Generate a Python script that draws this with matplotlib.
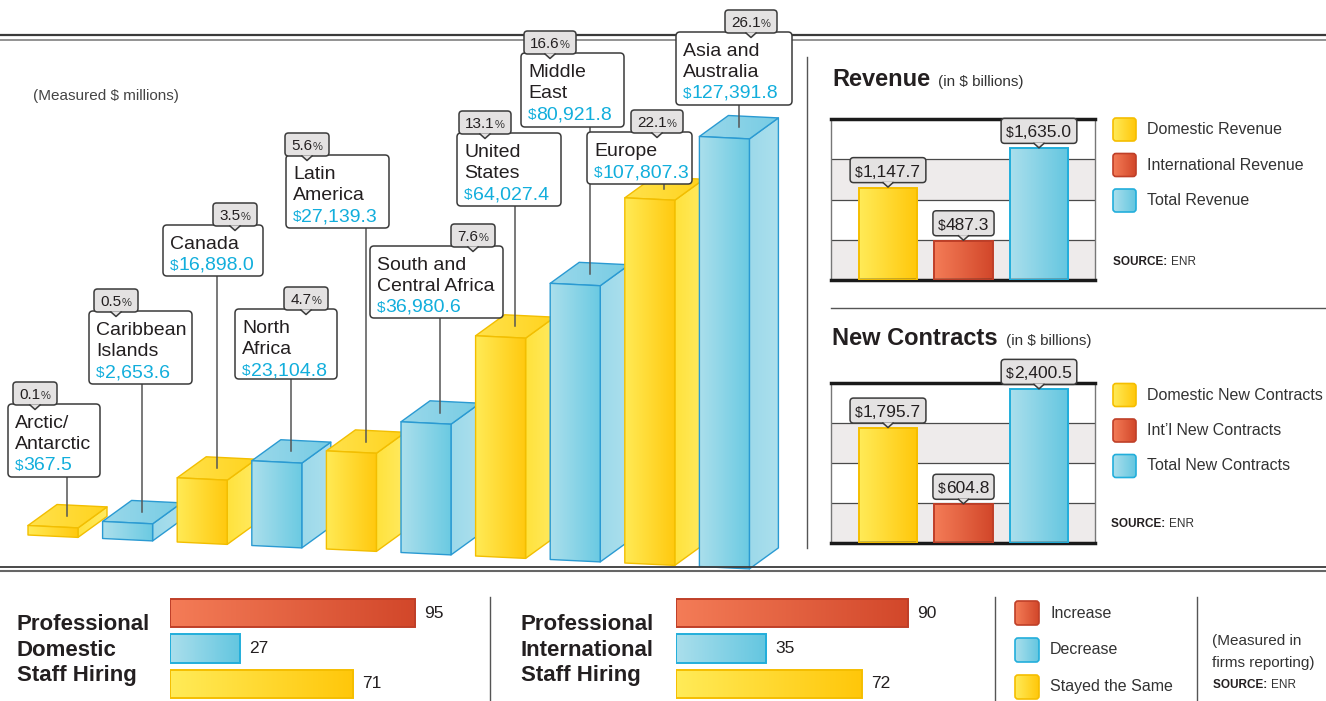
import numpy as np
import matplotlib
matplotlib.use('Agg')
import matplotlib.pyplot as plt
from matplotlib.patches import Polygon, FancyBboxPatch
from matplotlib.colors import LinearSegmentedColormap

plt.rcParams['font.family'] = ['Liberation Sans', 'DejaVu Sans']
plt.rcParams['text.parse_math'] = False

# regional work (measured $ millions)
regions = ['Arctic/\nAntarctic', 'Caribbean\nIslands', 'Canada', 'North\nAfrica', 'Latin\nAmerica',
           'South and\nCentral Africa', 'United\nStates', 'Middle\nEast', 'Europe', 'Asia and\nAustralia']
region_values = [367.5, 2653.6, 16898.0, 23104.8, 27139.3, 36980.6, 64027.4, 80921.8, 107807.3, 127391.8]
region_share = [0.1, 0.5, 3.5, 4.7, 5.6, 7.6, 13.1, 16.6, 22.1, 26.1]

# revenue / new contracts ($ billions)
rev_names = ['Domestic Revenue', 'International Revenue', 'Total Revenue']
rev_values = [1147.7, 487.3, 1635.0]
con_names = ['Domestic New Contracts', 'Int\u2019l New Contracts', 'Total New Contracts']
con_values = [1795.7, 604.8, 2400.5]

# staff hiring (firms reporting)
hire_names = ['Increase', 'Decrease', 'Stayed the Same']
hire_domestic = [95, 27, 71]
hire_intl = [90, 35, 72]

W, H = 1326, 701
DARK = '#231F20'
CYAN = '#12AEDC'
TAGC = '#E4E2E2'
YEL = {'front': ('#FFEA55', '#FFC90F'), 'side': ('#FFE23C', '#FFEA60'),
       'top': ('#FFE24C', '#FFD31E'), 'edge': '#F2BE00'}
BLU = {'front': ('#ABDFEC', '#6BCAE2'), 'side': ('#9CD9EA', '#ACE0ED'),
       'top': ('#9AD8EA', '#77CCE4'), 'edge': '#2A9AD2'}
FLAT = [(('#FFEB58', '#FFC70A'), '#F5BE00'),
        (('#F47C57', '#D2472A'), '#BF3F28'),
        (('#ABDFEC', '#63C6E0'), '#22AEDB')]
HIRE_COL = [FLAT[1], FLAT[2], FLAT[0]]

# callout boxes for the regions: left, top, right, bottom (px) and x of the % tag
BOXES = [(8, 404, 100, 477, 35), (89, 311, 192, 384, 116), (163, 225, 263, 276, 235),
         (235, 309, 337, 379, 306), (286, 155, 389, 228, 307), (370, 246, 503, 318, 473),
         (457, 133, 561, 206, 485), (521, 53, 624, 127, 550), (587, 132, 692, 184, 657),
         (676, 32, 792, 105, 751)]

fig = plt.figure(figsize=(W / 100, H / 100), dpi=100)


def fax(l, t, r, b):
    return fig.add_axes([l / W, 1 - b / H, (r - l) / W, (b - t) / H])


def gfill(ax, patch, cols, z):
    cm = LinearSegmentedColormap.from_list('g', cols)
    if isinstance(patch, Polygon):
        pts = patch.get_xy()
        x0, x1 = pts[:, 0].min(), pts[:, 0].max()
        y0, y1 = pts[:, 1].min(), pts[:, 1].max()
    else:
        x0, y0 = patch.get_x(), patch.get_y()
        x1, y1 = x0 + patch.get_width(), y0 + patch.get_height()
    im = ax.imshow(np.linspace(0, 1, 128)[None, :], extent=(x0, x1, y0, y1), cmap=cm,
                   aspect='auto', interpolation='bilinear', zorder=z)
    im.set_clip_path(patch)


# ---------------- 3D regional bars ----------------
ax3 = fax(0, 0, 806, 570)
ax3.axis('off')
STEP, X0 = 74.6, 53.0
FLOOR = -2500.0
pxy = 430.0 / (max(region_values) - FLOOR)
ylo = FLOOR - 35 / pxy
ax3.set_xlim(-X0 / STEP, (806 - X0) / STEP)
ax3.set_ylim(ylo, ylo + 570 / pxy)
sx, sy = 1 / STEP, 1 / pxy
hw, dx, dy = 25 * sx, 29 * sx, 21 * sy
tops = []
for i, v in enumerate(region_values):
    c = YEL if i % 2 == 0 else BLU
    shift, tilt = 3.5 * i * sy, 2.4 * sy
    xl, xr = i - hw, i + hw
    bl, tl = FLOOR - shift, v - shift
    br, tr = bl - tilt, tl - tilt
    faces = {'front': [(xl, bl), (xr, br), (xr, tr), (xl, tl)],
             'side': [(xr, br), (xr + dx, br + dy), (xr + dx, tr + dy), (xr, tr)],
             'top': [(xl, tl), (xr, tr), (xr + dx, tr + dy), (xl + dx, tl + dy)]}
    for k, nm in enumerate(['side', 'top', 'front']):
        z = 2 + i * 10 + k * 2
        p = Polygon(faces[nm], closed=True, fc='none', ec=c['edge'], lw=1.0,
                    zorder=z + 1, joinstyle='round')
        ax3.add_patch(p)
        gfill(ax3, p, c[nm], z)
    tops.append((i + dx / 2, (tl + tr) / 2 + dy / 2))

# ---------------- overlay in pixel units ----------------
ov = fig.add_axes([0, 0, 1, 1], zorder=10)
ov.set_xlim(0, W)
ov.set_ylim(H, 0)
ov.axis('off')
rend = fig.canvas.get_renderer()


def to_ov(ax, x, y):
    return ov.transData.inverted().transform(ax.transData.transform((x, y)))


def rich(x, y, pieces, ha='left', z=6):
    ts = [ov.text(x, y, s, va='baseline', ha='left', zorder=z, **kw) for s, kw in pieces]
    ws = [t.get_window_extent(rend).width for t in ts]
    x0 = x - sum(ws) / 2 if ha == 'center' else x
    for t, w in zip(ts, ws):
        t.set_x(x0)
        x0 += w
    return sum(ws)


def pointer(cx, y, z):
    ov.add_patch(Polygon([(cx - 5, y - 0.6), (cx + 5, y - 0.6), (cx, y + 4.5)], closed=True,
                         fc=TAGC, ec='none', zorder=z))
    ov.plot([cx - 5, cx, cx + 5], [y, y + 4.5, y], color='#3a3a3a', lw=1.1, zorder=z + 0.1)


# rules
ov.plot([0, W], [34.5, 34.5], color='#3a3a3a', lw=1.6, zorder=1)
ov.plot([0, W], [40, 40], color='#8a8a8a', lw=1.3, zorder=1)
ov.plot([0, W], [566.5, 566.5], color='#3a3a3a', lw=1.3, zorder=1)
ov.plot([0, W], [571, 571], color='#666666', lw=1.5, zorder=1)
ov.plot([806.5, 806.5], [57, 548], color='#555555', lw=1, zorder=1)
ov.plot([831, W], [307.5, 307.5], color='#555555', lw=1, zorder=1)
for xv in (490, 995, 1197):
    ov.plot([xv, xv], [597, 701], color='#555555', lw=1, zorder=1)

ov.text(33, 100, '(Measured $ millions)', fontsize=11, color='#444444', va='baseline')

# region callouts
for i, (name, v, sh) in enumerate(zip(regions, region_values, region_share)):
    l, t, r, b, cx = BOXES[i]
    lx, ly = to_ov(ax3, *tops[i])
    ov.plot([lx, lx], [b, ly], color='#555555', lw=1.1, zorder=2)
    ov.add_patch(FancyBboxPatch((l, t), r - l, b - t, boxstyle='round,pad=0,rounding_size=4',
                                fc='white', ec='#3a3a3a', lw=1.1, zorder=3))
    lines = name.split('\n')
    for k, s in enumerate(lines):
        ov.text(l + 7, t + 24 + 21 * k, s, fontsize=14, color=DARK, va='baseline', zorder=4)
    rich(l + 7, t + 24 + 21 * len(lines),
         [('$', dict(fontsize=11, color=CYAN)), (f'{v:,.1f}', dict(fontsize=14, color=CYAN))], z=4)
    tw = 44 if sh < 10 else 52
    ov.add_patch(FancyBboxPatch((cx - tw / 2, t - 22), tw, 23, boxstyle='round,pad=0,rounding_size=3.5',
                                fc=TAGC, ec='#3a3a3a', lw=1.1, zorder=5))
    pointer(cx, t + 1, 5.5)
    rich(cx, t - 5, [(f'{sh}', dict(fontsize=11, color=DARK)), ('%', dict(fontsize=8, color='#333333'))],
         ha='center', z=6)


# ---------------- revenue / contracts panels ----------------
def money_panel(title, base_y, top, bottom, names, values, ymax, leg_y, src_x, src_y):
    w = rich(832, base_y, [(title, dict(fontsize=17, fontweight='bold', color=DARK))])
    ov.text(832 + w + 8, base_y, '(in $ billions)', fontsize=11, color='#333333', va='baseline')
    ax = fax(831, top, 1095, bottom)
    xs = np.arange(len(values))
    ax.set_xlim(-0.755, 2.742)
    ax.set_ylim(0, ymax)
    ticks = np.linspace(0, ymax, 5)
    for k in range(4):
        if k % 2 == 0:
            ax.axhspan(ticks[k], ticks[k + 1], color='#EEEBEB', lw=0, zorder=0)
    ax.set_yticks(ticks[1:-1])
    ax.set_xticks([])
    ax.tick_params(length=0, labelleft=False)
    ax.grid(axis='y', color='#4a4a4a', lw=0.9)
    ax.set_axisbelow(True)
    for s in ('top', 'bottom'):
        ax.spines[s].set_linewidth(2.5)
        ax.spines[s].set_color('#1a1a1a')
    for s in ('left', 'right'):
        ax.spines[s].set_linewidth(1)
        ax.spines[s].set_color('#777777')
    bars = ax.bar(xs, values, width=0.78, fc='none', zorder=3)
    for bar, (cols, ec) in zip(bars, FLAT):
        bar.set_edgecolor(ec)
        bar.set_linewidth(1.4)
        gfill(ax, bar, cols, 2)
    for x, v in zip(xs, values):
        px, py = to_ov(ax, x, v)
        bb = py - 5
        tw = rich(px, bb - 6, [('$', dict(fontsize=10, color=DARK)),
                              (f'{v:,.1f}', dict(fontsize=12.5, color=DARK))], ha='center', z=8)
        ov.add_patch(FancyBboxPatch((px - tw / 2 - 5, bb - 25), tw + 10, 25,
                                    boxstyle='round,pad=0,rounding_size=3.5',
                                    fc=TAGC, ec='#3a3a3a', lw=1.1, zorder=7))
        pointer(px, bb, 7.5)
    for k, (nm, (cols, ec)) in enumerate(zip(names, FLAT)):
        cy = leg_y + 35.5 * k
        sq = FancyBboxPatch((1113, cy - 11.5), 23, 23, boxstyle='round,pad=0,rounding_size=3',
                            fc='none', ec=ec, lw=1.2, zorder=4)
        ov.add_patch(sq)
        gfill(ov, sq, cols, 3)
        ov.text(1147, cy, nm, fontsize=11.5, color='#333333', va='center', zorder=4)
    rich(src_x, src_y + 4, [('SOURCE: ', dict(fontsize=8.5, fontweight='bold', color=DARK)),
                            ('ENR', dict(fontsize=8.5, color='#333333'))])


money_panel('Revenue', 86, 119, 280, rev_names, rev_values, 2000, 129.5, 1113, 261)
money_panel('New Contracts', 345, 383, 543, con_names, con_values, 2500, 395, 1111, 523)


# ---------------- staff hiring ----------------
def hire_panel(title, tx, left, values):
    for k, s in enumerate(title.split('\n')):
        ov.text(tx, 622 + 25.5 * k + 8, s, fontsize=16, fontweight='bold', color=DARK, va='baseline')
    ax = fax(left, 595.25, left + 258, 701.75)
    ax.axis('off')
    ax.set_xlim(0, 100)
    ax.set_ylim(2.5, -0.5)
    bars = ax.barh(range(len(values)), values, height=0.79, fc='none', zorder=3)
    for bar, (cols, ec) in zip(bars, HIRE_COL):
        bar.set_edgecolor(ec)
        bar.set_linewidth(1.4)
        gfill(ax, bar, cols, 2)
    for i, v in enumerate(values):
        ax.annotate(f'{v}', (v, i), xytext=(6.5, 0), textcoords='offset points',
                    va='center', fontsize=12.5, color=DARK)


hire_panel('Professional\nDomestic\nStaff Hiring', 17, 170, hire_domestic)
hire_panel('Professional\nInternational\nStaff Hiring', 521, 676, hire_intl)

for k, (nm, (cols, ec)) in enumerate(zip(hire_names, HIRE_COL)):
    cy = 613 + 37 * k
    sq = FancyBboxPatch((1015, cy - 12), 24, 24, boxstyle='round,pad=0,rounding_size=3',
                        fc='none', ec=ec, lw=1.2, zorder=4)
    ov.add_patch(sq)
    gfill(ov, sq, cols, 3)
    ov.text(1050, cy, nm, fontsize=11.5, color='#333333', va='center', zorder=4)

ov.text(1212, 645.5, '(Measured in', fontsize=11, color='#333333', va='baseline')
ov.text(1212, 666.5, 'firms reporting)', fontsize=11, color='#333333', va='baseline')
rich(1213, 688, [('SOURCE: ', dict(fontsize=8.5, fontweight='bold', color=DARK)),
                 ('ENR', dict(fontsize=8.5, color='#333333'))])

ov.set_xlim(0, W)
ov.set_ylim(H, 0)
fig.savefig('out.png', dpi=100)
